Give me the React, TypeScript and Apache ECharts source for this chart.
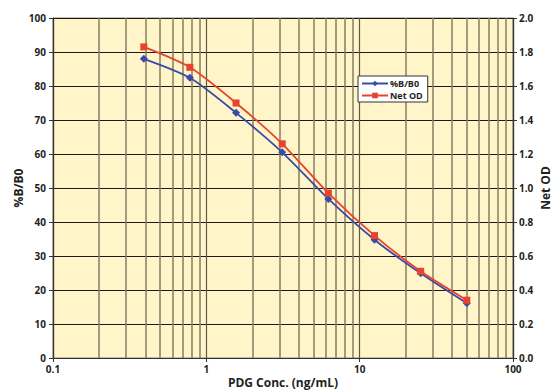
import React, { useEffect, useRef } from "react";
import * as echarts from "echarts";

const concentrations = [0.391, 0.781, 1.5625, 3.125, 6.25, 12.5, 25, 50];
const bB0 = [88.0, 82.4, 72.1, 60.5, 46.8, 34.8, 24.9, 16.1];
const netOD = [1.83, 1.71, 1.5, 1.26, 0.97, 0.72, 0.51, 0.34];
const minorGrid = [0.2, 0.3, 0.4, 0.5, 0.6, 0.7, 0.8, 0.9, 2, 3, 4, 5, 6, 7, 8, 9, 20, 30, 40, 50, 60, 70, 80, 90];
const xTickLabels = ["0.1", "1", "10", "100"];

const FONT = "'Open Sans', 'DejaVu Sans', sans-serif";
const TXT = "#231f20";

export default function App() {
  const ref = useRef<HTMLDivElement>(null);
  useEffect(() => {
    if (!ref.current) return;
    const chart = echarts.init(ref.current, undefined, { renderer: "svg" });
    chart.setOption({
      animation: false,
      backgroundColor: "#ffffff",
      grid: {
        left: 53,
        right: 43,
        top: 18,
        bottom: 32,
        containLabel: false,
        outerBoundsMode: "none",
        show: true,
        backgroundColor: "#fff5c9",
        borderColor: "#8a8470",
        borderWidth: 1,
      },
      legend: {
        left: 358,
        top: 76,
        orient: "vertical",
        backgroundColor: "#ffffff",
        borderColor: "#333",
        borderWidth: 1,
        borderRadius: 0,
        padding: [3, 5, 2, 3],
        itemGap: 3,
        itemWidth: 26,
        itemHeight: 7,
        textStyle: { fontFamily: FONT, fontWeight: "bold", fontSize: 9, color: TXT, padding: [0, 0, 0, -3] },
        data: ["%B/B0", "Net OD"],
      },
      xAxis: {
        type: "log",
        logBase: 10,
        min: 0.1,
        max: 100,
        name: "PDG Conc. (ng/mL)",
        nameLocation: "middle",
        nameMoveOverlap: false,
        nameGap: 17,
        nameTextStyle: { fontFamily: FONT, fontWeight: "bold", fontSize: 12, color: TXT, lineHeight: 14 },
        axisLine: { lineStyle: { color: "#333", width: 1.2 } },
        axisTick: { show: true, length: 4, lineStyle: { color: "#333" } },
        axisLabel: {
          fontFamily: FONT,
          fontWeight: "bold",
          fontSize: 10,
          color: TXT,
          margin: 6,
          formatter: (v: number) => {
            const idx = Math.round(Math.log10(v) + 1);
            return xTickLabels[idx] ?? String(v);
          },
        },
        splitLine: { show: true, lineStyle: { color: "#5e5848", width: 1.2 } },
      },
      yAxis: [
        {
          type: "value",
          min: 0,
          max: 100,
          interval: 10,
          name: "%B/B0",
          nameLocation: "middle",
          nameMoveOverlap: false,
          nameGap: 28,
          nameTextStyle: { fontFamily: FONT, fontWeight: "bold", fontSize: 12, color: TXT, lineHeight: 14 },
          axisLine: { show: true, lineStyle: { color: "#333", width: 1.2 } },
          axisTick: { show: true, length: 4, lineStyle: { color: "#333" } },
          axisLabel: { fontFamily: FONT, fontWeight: "bold", fontSize: 10, color: TXT, margin: 7 },
          splitLine: { show: true, lineStyle: { color: "#1a1a1a", width: 1 } },
        },
        {
          type: "value",
          min: 0,
          max: 2,
          interval: 0.2,
          name: "Net OD",
          nameLocation: "middle",
          nameMoveOverlap: false,
          nameGap: 25,
          nameRotate: 90,
          nameTextStyle: { fontFamily: FONT, fontWeight: "bold", fontSize: 12, color: TXT, lineHeight: 14 },
          axisLine: { show: true, lineStyle: { color: "#333", width: 1.2 } },
          axisTick: { show: true, length: 4, lineStyle: { color: "#333" } },
          axisLabel: { fontFamily: FONT, fontWeight: "bold", fontSize: 10, color: TXT, margin: 6, formatter: (v: number) => v.toFixed(1) },
          splitLine: { show: false },
        },
      ],
      series: [
        {
          name: "%B/B0",
          type: "line",
          yAxisIndex: 0,
          smooth: 0.25,
          symbol: "diamond",
          symbolSize: 8,
          itemStyle: { color: "#3a4aa6" },
          lineStyle: { color: "#3a4aa6", width: 1.8 },
          data: concentrations.map((c, i) => [c, bB0[i]]),
          markLine: {
            silent: true,
            symbol: ["none", "none"],
            label: { show: false },
            lineStyle: { color: "#857c62", width: 1.5, type: "solid" },
            data: minorGrid.map((v) => ({ xAxis: v })),
            z: 1,
          },
          z: 3,
        },
        {
          name: "Net OD",
          type: "line",
          yAxisIndex: 1,
          smooth: 0.25,
          symbol: "rect",
          symbolSize: 7,
          itemStyle: { color: "#e8432d" },
          lineStyle: { color: "#e8432d", width: 1.8 },
          data: concentrations.map((c, i) => [c, netOD[i]]),
          z: 4,
        },
      ],
    });
    return () => chart.dispose();
  }, []);
  return <div ref={ref} style={{ position: "fixed", left: 0, top: 0, width: 556, height: 390 }} />;
}
